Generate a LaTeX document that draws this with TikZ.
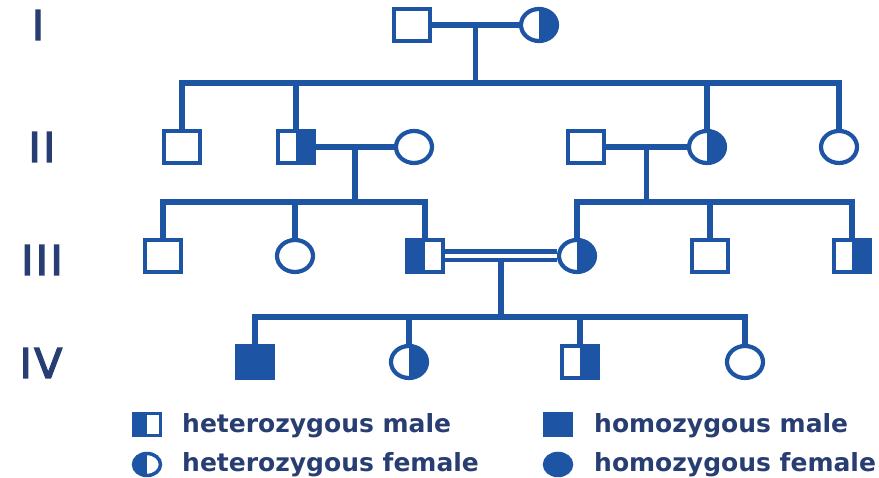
\documentclass[tikz,border=0pt]{standalone}
\usepackage{fontspec}
\setmainfont{DejaVu Sans}
\newfontfamily\numfont{DejaVu Sans}[LetterSpace=6,FakeBold=3.5]
\usetikzlibrary{shapes.geometric,calc}
\definecolor{pedblue}{RGB}{30,84,164}
\definecolor{pedtext}{RGB}{40,62,115}
\begin{document}
\begin{tikzpicture}[x=1pt,y=1pt,
  person/.style={draw=pedblue, line width=4.2pt, inner sep=0pt, minimum width=36pt, minimum height=32pt},
  male/.style={person, rectangle},
  female/.style={person, ellipse},
  small/.style={line width=3.5pt, minimum width=27pt, minimum height=22pt},
  fillR/.style={path picture={\fill[pedblue] (path picture bounding box.north) rectangle (path picture bounding box.south east);}},
  fillL/.style={path picture={\fill[pedblue] (path picture bounding box.north) rectangle (path picture bounding box.south west);}},
  fillA/.style={fill=pedblue},
  link/.style={draw=pedblue, line width=5.5pt, line join=miter},
  consang/.style={draw=pedblue, line width=4.5pt, double=white, double distance=4pt},
  gen/.style={text=pedtext, font=\numfont\fontsize{41}{41}\selectfont, inner sep=0pt},
  legtext/.style={text=pedtext, font=\bfseries\fontsize{25}{25}\selectfont, anchor=west, inner sep=0pt}
]
\useasboundingbox (0,0) rectangle (879,478);

% generation labels
\node[gen] (G1) at (38,453) {I};
\node[gen] (G2) at (42,331) {II};
\node[gen] (G3) at (42,218) {III};
\node[gen] (G4) at (41,115) {IV};

% sibship levels
\coordinate (s2) at (0,395);
\coordinate (s3) at (0,276);
\coordinate (s4) at (0,161);

% generation I
\node[male] (I1) at (412,453) {};
\node[female, fillR] (I2) at (539,453) {};

% generation II
\node[male] (II1) at (182,331) {};
\node[male, fillR] (II2) at (296,331) {};
\node[female] (II3) at (414,331) {};
\node[male] (II4) at (586,331) {};
\node[female, fillR] (II5) at (707,331) {};
\node[female] (II6) at (839,331) {};

% generation III
\node[male] (III1) at (163,222) {};
\node[female] (III2) at (295,222) {};
\node[male, fillL] (III3) at (425,222) {};
\node[female, fillR] (III4) at (577,222) {};
\node[male] (III5) at (710,222) {};
\node[male, fillR] (III6) at (852,222) {};

% generation IV
\node[male, fillA] (IV1) at (255,116) {};
\node[female, fillR] (IV2) at (409,116) {};
\node[male, fillR] (IV3) at (580,116) {};
\node[female] (IV4) at (745,116) {};

% couples and descent
\draw[link] (I1.east) -- (I2.west);
\coordinate (c1) at ($(I1.east)!0.5!(I2.west)$);
\draw[link] (c1) -- (c1 |- s2);
\draw[link] (II1.north) |- (II6.north |- s2) -- (II6.north);
\draw[link] (II2.north) -- (II2.north |- s2);
\draw[link] (II5.north) -- (II5.north |- s2);

\draw[link] (II2.east) -- (II3.west);
\coordinate (c2) at ($(II2.east)!0.5!(II3.west)$);
\draw[link] (c2) -- (c2 |- s3);
\draw[link] (III1.north) |- (III3.north |- s3) -- (III3.north);
\draw[link] (III2.north) -- (III2.north |- s3);

\draw[link] (II4.east) -- (II5.west);
\coordinate (c3) at ($(II4.east)!0.5!(II5.west)$);
\draw[link] (c3) -- (c3 |- s3);
\draw[link] (III4.north) |- (III6.north |- s3) -- (III6.north);
\draw[link] (III5.north) -- (III5.north |- s3);

\draw[consang] (III3.east) -- (III4.west);
\coordinate (c4) at ($($(III3.east)!0.5!(III4.west)$)+(0,-6)$);
\draw[link] (c4) -- (c4 |- s4);
\draw[link] (IV1.north) |- (IV4.north |- s4) -- (IV4.north);
\draw[link] (IV2.north) -- (IV2.north |- s4);
\draw[link] (IV3.north) -- (IV3.north |- s4);

% legend
\node[male, small, fillL] (L1) at (147,53.5) {};
\node[female, small, fillL] (L2) at (147,13.5) {};
\node[male, small, fillA] (L3) at (558,53.5) {};
\node[female, small, fillA] (L4) at (558,13.5) {};
\node[legtext] (T1) at (182,52) {heterozygous male};
\node[legtext] (T2) at (182,13) {heterozygous female};
\node[legtext] (T3) at (594,52) {homozygous male};
\node[legtext] (T4) at (594,13) {homozygous female};
\end{tikzpicture}
\end{document}
